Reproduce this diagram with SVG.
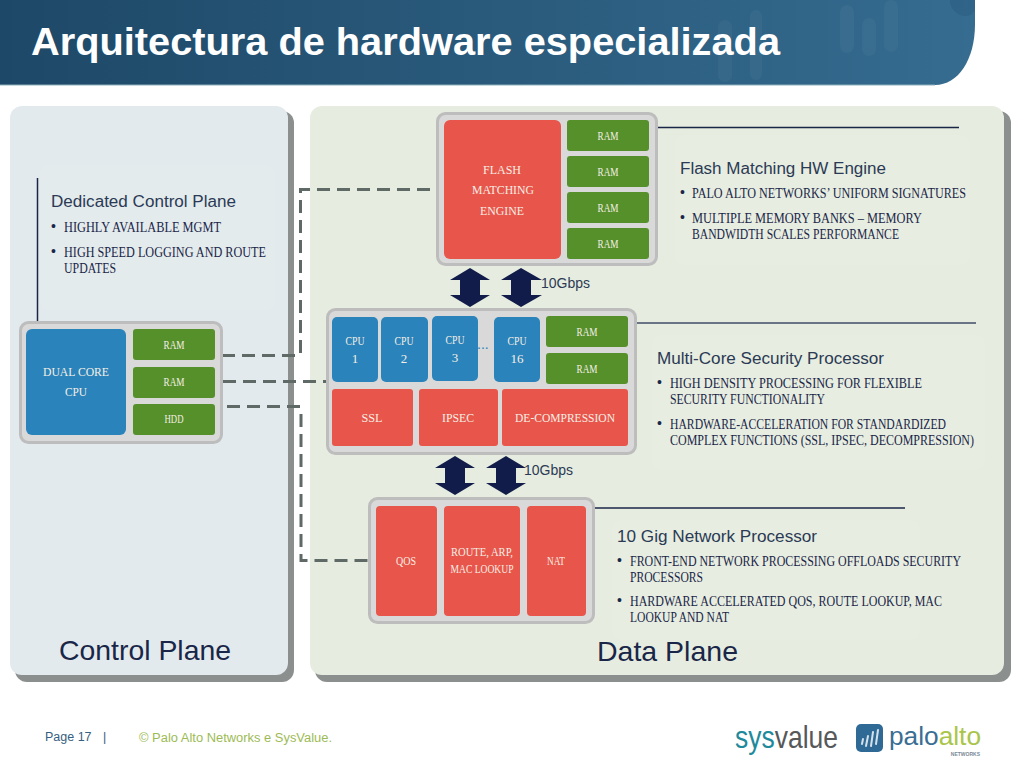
<svg xmlns="http://www.w3.org/2000/svg" width="1024" height="768" viewBox="0 0 1024 768">
<style>
.s{font-family:"Liberation Sans",Arial,sans-serif}
.h{font-family:"Liberation Sans",Arial,sans-serif;font-size:16px;fill:#2b3a55}
.d{font-family:"Liberation Serif",serif;font-size:14px;fill:#1a2648}
.w{font-family:"Liberation Serif",serif;font-size:13px;fill:#f6efe6;text-anchor:middle}
.frame{fill:#d9d9d9;stroke:#bdbdbd;stroke-width:3}
.red{fill:#e8554a}.grn{fill:#55902a}.blu{fill:#2a83ba}
.dash{fill:none;stroke:#5f6a66;stroke-width:3;stroke-dasharray:13 7}
.rule{stroke:#1a2648;stroke-width:1.5}
.arr{fill:#111c4a}
.tp{fill:#ffffff;opacity:.05}
.bl{font-family:"Liberation Sans",Arial,sans-serif;font-size:14px;fill:#1a2648}
.wm{fill:#ffffff;opacity:.035}
</style>
<defs>
<linearGradient id="hdr" x1="0" x2="1" y1="0" y2="0"><stop offset="0" stop-color="#1e4867"/><stop offset="1" stop-color="#356c90"/></linearGradient>
</defs>
<rect width="1024" height="768" fill="#fff"/>
<g id="header">
<path d="M0 0H975V24C975 60 958 85 935 85H0Z" fill="url(#hdr)"/>
<path d="M0 85H935" stroke="#8fb0bd" stroke-width="1"/>
<rect class="wm" x="840" y="5" width="14" height="48" rx="7"/>
<rect class="wm" x="862" y="18" width="14" height="38" rx="7"/>
<rect class="wm" x="884" y="0" width="14" height="52" rx="7"/>
<rect class="wm" x="718" y="20" width="14" height="62" rx="7"/>
<rect class="wm" x="750" y="10" width="12" height="70" rx="6"/>
<path d="M950 0H975V10C972 16 965 18 958 14C952 10 950 5 950 0Z" fill="#1e4867" opacity=".2"/>
<text class="s" x="31" y="55" font-size="38" font-weight="700" fill="#fff" textLength="749" lengthAdjust="spacingAndGlyphs">Arquitectura de hardware especializada</text>
</g>
<g id="control-plane">
<rect x="15" y="111" width="279" height="571" rx="12" fill="#8b8f8d"/>
<rect x="10" y="106" width="278" height="569" rx="12" fill="#e3eaed"/>
<rect class="tp" x="40" y="165" width="235" height="145" rx="8"/>
<line class="rule" x1="37.500" y1="178" x2="37.500" y2="321"/>
<text class="h" x="51" y="207" textLength="185" lengthAdjust="spacingAndGlyphs">Dedicated Control Plane</text>
<text class="bl" x="51" y="231">•</text>
<text class="d" x="64" y="232" textLength="157" lengthAdjust="spacingAndGlyphs">HIGHLY AVAILABLE MGMT</text>
<text class="bl" x="51" y="256">•</text>
<text class="d" x="64" y="257" textLength="202" lengthAdjust="spacingAndGlyphs">HIGH SPEED LOGGING AND ROUTE</text>
<text class="d" x="64" y="273" textLength="52" lengthAdjust="spacingAndGlyphs">UPDATES</text>
<text class="s" x="59" y="660" font-size="28" fill="#1a2648" textLength="172" lengthAdjust="spacingAndGlyphs">Control Plane</text>
</g>
<g id="data-plane">
<rect x="315" y="111" width="696" height="571" rx="12" fill="#8b8f8d"/>
<rect x="310" y="106" width="694" height="569" rx="12" fill="#e6ecdf"/>
<text class="s" x="597" y="661" font-size="28" fill="#1a2648" textLength="141" lengthAdjust="spacingAndGlyphs">Data Plane</text>
</g>
<g id="connectors">
<path class="dash" d="M430 189.500H300.500V357"/>
<path class="dash" d="M222 355.500H300"/>
<path class="dash" d="M223 381.500H328"/>
<path class="dash" d="M227 406.500H300"/>
<path class="dash" d="M301 414V560.500H368"/>
<line class="rule" x1="658" y1="127.500" x2="959" y2="127.500"/>
<line class="rule" x1="636" y1="323" x2="976" y2="323" stroke-opacity=".8"/>
<line class="rule" x1="594" y1="508" x2="905" y2="508"/>
<path class="arr" d="M470 268L490 280H480V295H490L470 307L450 295H460V280H450Z"/>
<path class="arr" d="M521 268L542 280H531V295H542L521 307L501 295H511V280H501Z"/>
<path class="arr" d="M455 456L475 468H465V483H475L455 495L435 483H445V468H435Z"/>
<path class="arr" d="M506 456L526 468H516V483H526L506 495L486 483H496V468H486Z"/>
<text class="s" x="541" y="288" font-size="14" fill="#2b3a55" textLength="49" lengthAdjust="spacingAndGlyphs">10Gbps</text>
<text class="s" x="524" y="475" font-size="14" fill="#2b3a55" textLength="49" lengthAdjust="spacingAndGlyphs">10Gbps</text>
</g>
<g id="flash-engine">
<rect class="frame" x="437.500" y="113.500" width="219" height="151" rx="8"/>
<rect class="red" x="444" y="120" width="117" height="139" rx="6"/>
<text class="w" x="502" y="174" font-size="15" textLength="38" lengthAdjust="spacingAndGlyphs">FLASH</text>
<text class="w" x="503" y="194" font-size="15" textLength="62" lengthAdjust="spacingAndGlyphs">MATCHING</text>
<text class="w" x="502" y="215" font-size="15" textLength="44" lengthAdjust="spacingAndGlyphs">ENGINE</text>
<rect class="grn" x="567" y="120" width="82" height="31" rx="3"/><text class="w" x="608" y="140" textLength="21" lengthAdjust="spacingAndGlyphs">RAM</text>
<rect class="grn" x="567" y="156" width="82" height="31" rx="3"/><text class="w" x="608" y="176" textLength="21" lengthAdjust="spacingAndGlyphs">RAM</text>
<rect class="grn" x="567" y="192" width="82" height="31" rx="3"/><text class="w" x="608" y="212" textLength="21" lengthAdjust="spacingAndGlyphs">RAM</text>
<rect class="grn" x="567" y="228" width="82" height="31" rx="3"/><text class="w" x="608" y="248" textLength="21" lengthAdjust="spacingAndGlyphs">RAM</text>
</g>
<g id="flash-text">
<rect class="tp" x="675" y="135" width="295" height="130" rx="8"/>
<text class="h" x="680" y="174" textLength="206" lengthAdjust="spacingAndGlyphs">Flash Matching HW Engine</text>
<text class="bl" x="680" y="197">•</text>
<text class="d" x="692" y="198" textLength="274" lengthAdjust="spacingAndGlyphs">PALO ALTO NETWORKS’ UNIFORM SIGNATURES</text>
<text class="bl" x="680" y="222">•</text>
<text class="d" x="692" y="223" textLength="230" lengthAdjust="spacingAndGlyphs">MULTIPLE MEMORY BANKS – MEMORY</text>
<text class="d" x="692" y="239" textLength="207" lengthAdjust="spacingAndGlyphs">BANDWIDTH SCALES PERFORMANCE</text>
</g>
<g id="multi-core">
<rect class="frame" x="327.500" y="309.500" width="308" height="144" rx="8"/>
<rect class="blu" x="332" y="317" width="46" height="65" rx="5"/><text class="w" x="355" y="345" textLength="19" lengthAdjust="spacingAndGlyphs">CPU</text><text class="w" x="355" y="363">1</text>
<rect class="blu" x="381" y="317" width="47" height="65" rx="5"/><text class="w" x="404" y="345" textLength="19" lengthAdjust="spacingAndGlyphs">CPU</text><text class="w" x="404" y="363">2</text>
<rect class="blu" x="432" y="316" width="46" height="65" rx="5"/><text class="w" x="455" y="344" textLength="19" lengthAdjust="spacingAndGlyphs">CPU</text><text class="w" x="455" y="362">3</text>
<text class="s" x="477" y="349" font-size="14" fill="#2a83ba">...</text>
<rect class="blu" x="494" y="317" width="46" height="65" rx="5"/><text class="w" x="517" y="345" textLength="19" lengthAdjust="spacingAndGlyphs">CPU</text><text class="w" x="517" y="363">16</text>
<rect class="grn" x="546" y="316" width="82" height="31" rx="3"/><text class="w" x="587" y="336" textLength="21" lengthAdjust="spacingAndGlyphs">RAM</text>
<rect class="grn" x="546" y="353" width="82" height="31" rx="3"/><text class="w" x="587" y="373" textLength="21" lengthAdjust="spacingAndGlyphs">RAM</text>
<rect class="red" x="332" y="389" width="81" height="57" rx="3"/><text class="w" x="372" y="422" textLength="21" lengthAdjust="spacingAndGlyphs">SSL</text>
<rect class="red" x="419" y="389" width="79" height="57" rx="3"/><text class="w" x="458" y="422" textLength="32" lengthAdjust="spacingAndGlyphs">IPSEC</text>
<rect class="red" x="502" y="389" width="126" height="57" rx="3"/><text class="w" x="565" y="422" textLength="100" lengthAdjust="spacingAndGlyphs">DE-COMPRESSION</text>
</g>
<g id="multi-text">
<rect class="tp" x="652" y="335" width="333" height="135" rx="8"/>
<text class="h" x="657" y="364" textLength="227" lengthAdjust="spacingAndGlyphs">Multi-Core Security Processor</text>
<text class="bl" x="657" y="387">•</text>
<text class="d" x="670" y="388" textLength="252" lengthAdjust="spacingAndGlyphs">HIGH DENSITY PROCESSING FOR FLEXIBLE</text>
<text class="d" x="670" y="404" textLength="155" lengthAdjust="spacingAndGlyphs">SECURITY FUNCTIONALITY</text>
<text class="bl" x="657" y="428">•</text>
<text class="d" x="670" y="429" textLength="276" lengthAdjust="spacingAndGlyphs">HARDWARE-ACCELERATION FOR STANDARDIZED</text>
<text class="d" x="670" y="445" textLength="304" lengthAdjust="spacingAndGlyphs">COMPLEX FUNCTIONS (SSL, IPSEC, DECOMPRESSION)</text>
</g>
<g id="network-processor">
<rect class="frame" x="369.500" y="498.500" width="224" height="124" rx="8"/>
<rect class="red" x="376" y="506" width="61" height="110" rx="4"/><text class="w" x="406" y="565" textLength="20" lengthAdjust="spacingAndGlyphs">QOS</text>
<rect class="red" x="444" y="506" width="76" height="110" rx="4"/>
<text class="w" x="482" y="556" textLength="62" lengthAdjust="spacingAndGlyphs">ROUTE, ARP,</text>
<text class="w" x="482" y="573" textLength="63" lengthAdjust="spacingAndGlyphs">MAC LOOKUP</text>
<rect class="red" x="527" y="506" width="59" height="110" rx="4"/><text class="w" x="556" y="565" textLength="18" lengthAdjust="spacingAndGlyphs">NAT</text>
</g>
<g id="network-text">
<rect class="tp" x="612" y="520" width="308" height="120" rx="8"/>
<text class="h" x="617" y="542" textLength="200" lengthAdjust="spacingAndGlyphs">10 Gig Network Processor</text>
<text class="bl" x="617" y="565">•</text>
<text class="d" x="630" y="566" textLength="331" lengthAdjust="spacingAndGlyphs">FRONT-END NETWORK PROCESSING OFFLOADS SECURITY</text>
<text class="d" x="630" y="582" textLength="73" lengthAdjust="spacingAndGlyphs">PROCESSORS</text>
<text class="bl" x="617" y="605">•</text>
<text class="d" x="630" y="606" textLength="312" lengthAdjust="spacingAndGlyphs">HARDWARE ACCELERATED QOS, ROUTE LOOKUP, MAC</text>
<text class="d" x="630" y="622" textLength="99" lengthAdjust="spacingAndGlyphs">LOOKUP AND NAT</text>
</g>
<g id="dual-core">
<rect class="frame" x="20.500" y="322.500" width="201" height="120" rx="8"/>
<rect class="blu" x="26" y="329" width="100" height="106" rx="6"/>
<text class="w" x="76" y="376" font-size="15" textLength="66" lengthAdjust="spacingAndGlyphs">DUAL CORE</text>
<text class="w" x="76" y="396" font-size="15" textLength="22" lengthAdjust="spacingAndGlyphs">CPU</text>
<rect class="grn" x="133" y="329" width="82" height="31" rx="3"/><text class="w" x="174" y="349" textLength="21" lengthAdjust="spacingAndGlyphs">RAM</text>
<rect class="grn" x="133" y="367" width="82" height="31" rx="3"/><text class="w" x="174" y="386" textLength="21" lengthAdjust="spacingAndGlyphs">RAM</text>
<rect class="grn" x="133" y="404" width="82" height="31" rx="3"/><text class="w" x="174" y="423" textLength="19" lengthAdjust="spacingAndGlyphs">HDD</text>
</g>
<g id="footer">
<text class="s" x="45" y="741" font-size="12.500" fill="#35607f">Page 17</text>
<text class="s" x="103" y="741" font-size="12.500" fill="#35607f">|</text>
<text class="s" x="139" y="742" font-size="12" fill="#9dbb55" textLength="193" lengthAdjust="spacingAndGlyphs">© Palo Alto Networks e SysValue.</text>
<text class="s" x="735" y="748" font-size="32" textLength="103" lengthAdjust="spacingAndGlyphs"><tspan fill="#1f8a9c">sys</tspan><tspan fill="#56585a">value</tspan></text>
<rect x="856" y="724" width="27" height="28" rx="5" fill="#2f6a96"/>
<path d="M862 744l1-5M866 746l2-10M871 746l2-14M876 744l2-14" stroke="#fff" stroke-width="2" stroke-linecap="round" opacity=".8"/>
<text class="s" x="889" y="745" font-size="25" textLength="92" lengthAdjust="spacingAndGlyphs"><tspan fill="#3a6e94">palo</tspan><tspan fill="#a9c54a">alto</tspan></text>
<text class="s" x="980" y="756" font-size="5" font-weight="700" fill="#7a8a96" text-anchor="end">NETWORKS</text>
</g>
</svg>
